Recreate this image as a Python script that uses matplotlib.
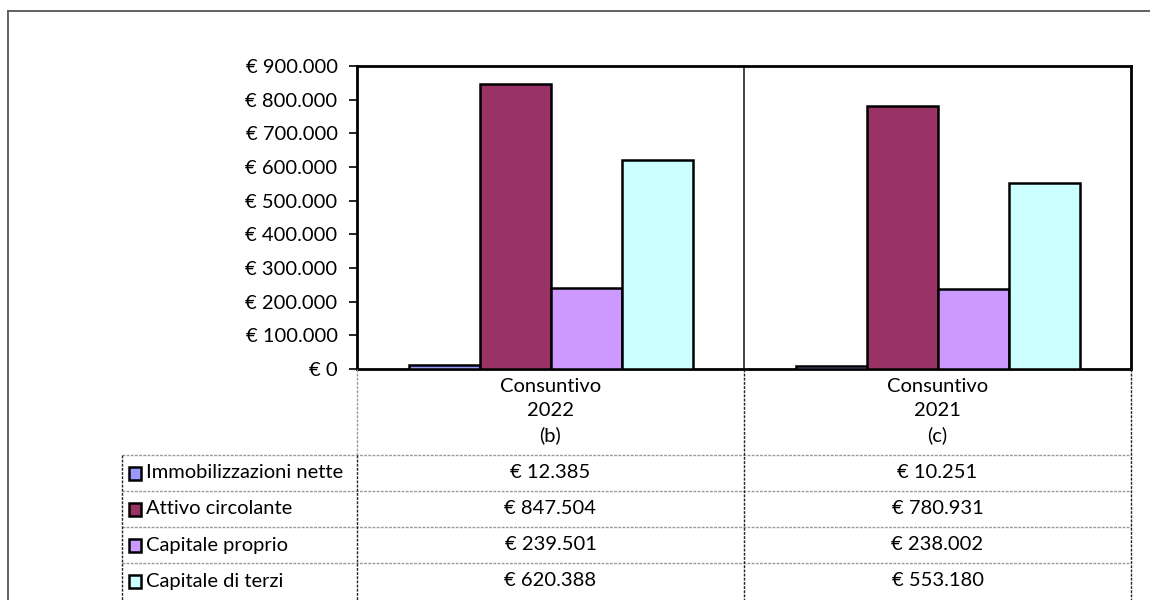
import numpy as np
import matplotlib.pyplot as plt
from matplotlib.lines import Line2D
from matplotlib.patches import Rectangle

categories = ["Consuntivo\n2022\n(b)", "Consuntivo\n2021\n(c)"]
series = ["Immobilizzazioni nette", "Attivo circolante", "Capitale proprio", "Capitale di terzi"]
values = [
    [12385, 10251],
    [847504, 780931],
    [239501, 238002],
    [620388, 553180],
]
colors = ["#9999FF", "#993366", "#CC99FF", "#CCFFFF"]
yticks = np.arange(0, 900001, 100000)

plt.rcParams['font.family'] = ['Lato', 'DejaVu Sans']
FS = 14.5

W, H = 1150, 600
fig = plt.figure(figsize=(W / 100, H / 100), dpi=100)


def fx(px):
    return px / W


def fy(py):
    return 1 - py / H


def eur(v):
    return "€ " + f"{v:,.0f}".replace(",", ".")


# outer chart frame
fig.add_artist(Line2D([fx(8), fx(8)], [fy(11), 0], color="#555555", lw=1.3))
fig.add_artist(Line2D([fx(8), 1], [fy(11), fy(11)], color="#555555", lw=1.3))

# plot area
L, R, T, B = 357, 1131, 66, 369
ax = fig.add_axes([fx(L), fy(B), fx(R - L), fy(T) - fy(B)])
x = np.arange(len(categories))
w = 71 / 387
for i, (name, vals) in enumerate(zip(series, values)):
    ax.bar(x + (i - 1.5) * w, vals, w, color=colors[i], edgecolor="black", linewidth=1.8, zorder=3)
ax.set_xlim(-0.5, 1.5)
ax.set_ylim(0, 900000)
ax.set_yticks(yticks)
ax.set_yticklabels([eur(v) for v in yticks], fontsize=FS)
ax.set_xticks([])
ax.axvline(0.5, color="#222222", lw=1.2, zorder=1)
for s in ax.spines.values():
    s.set_linewidth(2)
ax.tick_params(axis="y", length=6, width=1.2, pad=8)

# data table below
tab = fig.add_axes([0, 0, 1, 1], facecolor="none")
tab.set_xlim(0, W)
tab.set_ylim(H, 0)
tab.axis("off")
cols = [357, 744, 1131]
rows = [455, 491, 527, 563, 599]
grey = dict(color="#9a9a9a", lw=1, ls=(0, (2, 1)))
dark = dict(color="#222222", lw=1, ls=(0, (2, 1)))
for r in rows[:-1]:
    tab.plot([122, 1131], [r, r], **grey)
tab.plot([357, 357], [369, 455], **grey)
tab.plot([357, 357], [455, 600], **dark)
tab.plot([122, 122], [455, 600], **dark)
tab.plot([744, 744], [369, 600], **dark)
tab.plot([1131, 1131], [369, 600], **dark)

for j, cat in enumerate(categories):
    cx = (cols[j] + cols[j + 1]) / 2
    tab.text(cx, 378, cat, ha="center", va="top", fontsize=FS, linespacing=1.5)

for i, name in enumerate(series):
    cy = (rows[i] + rows[i + 1]) / 2
    tab.add_patch(Rectangle((129, cy - 6.5), 12, 13, facecolor=colors[i], edgecolor="black", lw=1.8))
    tab.text(146, cy, name, ha="left", va="center", fontsize=FS)
    for j in range(len(categories)):
        cx = (cols[j] + cols[j + 1]) / 2
        tab.text(cx, cy, eur(values[i][j]), ha="center", va="center", fontsize=FS)

fig.savefig("out.png", dpi=100)
